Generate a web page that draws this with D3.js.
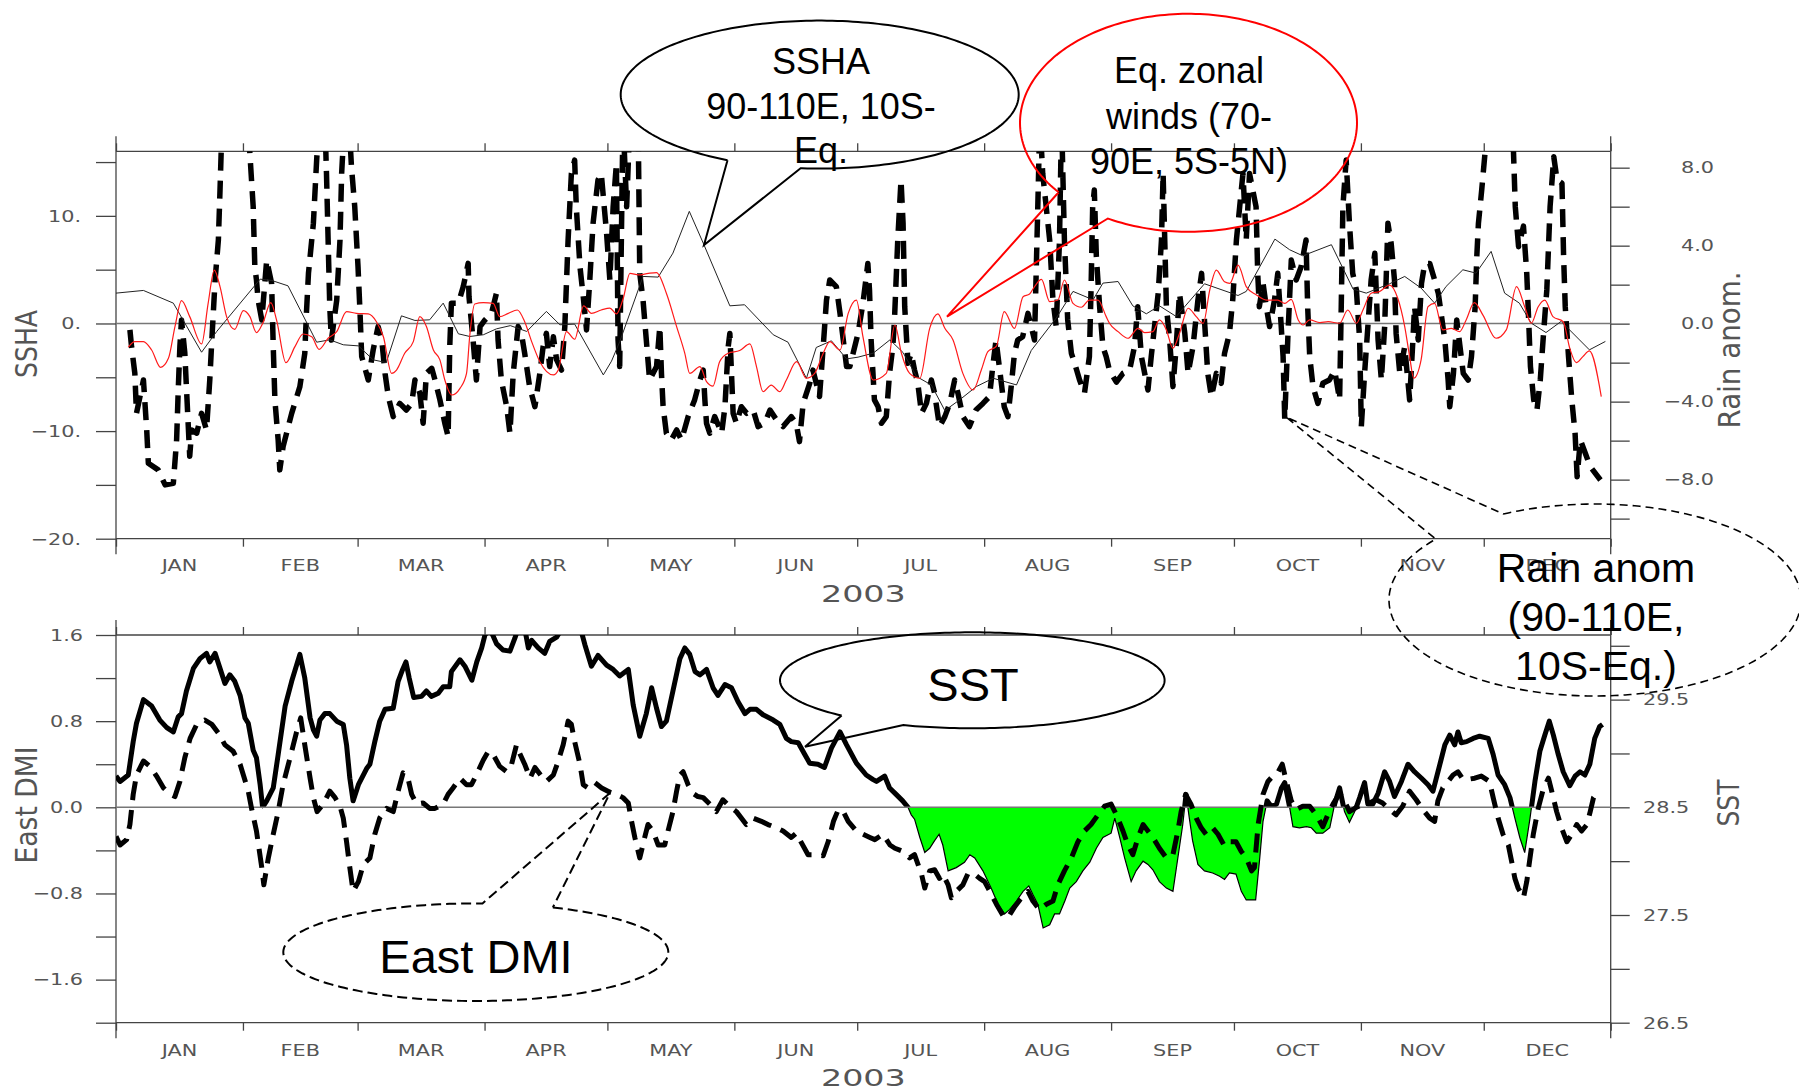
<!DOCTYPE html>
<html>
<head>
<meta charset="utf-8">
<script src="https://cdn.jsdelivr.net/npm/d3@7"></script>
<style>
  html, body { margin: 0; padding: 0; background: #fff; }
  svg { display: block; }
</style>
</head>
<body>
<svg id="chart" width="1799" height="1091"></svg>
<script>
// ---------------- data ----------------
// month and year labels
const monthLabels = ["JAN","FEB","MAR","APR","MAY","JUN","JUL","AUG","SEP","OCT","NOV","DEC"];
const yearLabel = "2003";

// axis ticks and their labels
const sshaTicks = [-20, -15, -10, -5, 0, 5, 10, 15];
const sshaTickLabels = [[10, "10."], [0, "0."], [-10, "\u221210."], [-20, "\u221220."]];
const rainTicks = [-10, -8, -6, -4, -2, 0, 2, 4, 6, 8];
const rainTickLabels = [[8, "8.0"], [4, "4.0"], [0, "0.0"], [-4, "\u22124.0"], [-8, "\u22128.0"]];
const dmiTicks = [-2, -1.6, -1.2, -0.8, -0.4, 0, 0.4, 0.8, 1.2, 1.6];
const dmiTickLabels = [[1.6, "1.6"], [0.8, "0.8"], [0, "0.0"], [-0.8, "\u22120.8"], [-1.6, "\u22121.6"]];
const sstTicks = [26.5, 27, 27.5, 28, 28.5, 29, 29.5, 30];
const sstTickLabels = [[29.5, "29.5"], [28.5, "28.5"], [27.5, "27.5"], [26.5, "26.5"]];

// SSHA, 90-110E 10S-Eq (day of year, cm)
const sshaSeries = [[0,2.82],[6.7,3.07],[14,1.89],[20.9,-2.67],[24.6,-0.74],[35.2,4.12],[38,4.0],[42,3.5],[49,-1.74],[52.2,-1.52],[55.5,-1.98],[59.2,-2.08],[62.8,-3.38],[66,-3.63],[69.7,0.71],[73,0.28],[76.6,0.34],[79.9,1.89],[83.6,-0.96],[86.4,-1.21],[89.7,-1.05],[92.9,-0.5],[96.3,-0.2],[100.3,-0.74],[105.1,1.12],[108.4,-0.12],[112,-0.06],[119,-4.78],[121,-3.5],[123,-1.7],[128.7,4.37],[132.4,4.31],[136,6.54],[140,10.42],[143.4,7.47],[149.9,1.64],[153.5,1.74],[160.5,-1.05],[164.1,-1.74],[168.6,-5.09],[171,-2.23],[174.7,-1.61],[178.4,-3.29],[181.2,-3.13],[184.9,-2.76],[189,-1.52],[192.2,-2.7],[195.5,-4.93],[199.1,-5.71],[202.4,-8.09],[206,-7.1],[210.1,-5.86],[214.2,-5.09],[219.9,-5.71],[223.5,-2.51],[229.6,0.5],[233.7,2.98],[238.6,2.2],[241,3.75],[244.7,3.9],[248.3,1.64],[251.6,0.9],[254.8,1.64],[258.9,0.65],[265.8,3.69],[274,2.6],[276,2.98],[283,7.84],[286.6,6.85],[289.8,6.29],[296.8,7.32],[302.1,3.19],[305.3,2.82],[311,3.69],[314.7,4.37],[318.7,3.29],[322,1.89],[324.8,3.44],[328.9,4.99],[332.1,4.68],[335.8,6.7],[339.1,2.82],[342.7,1.89],[345.6,0.03],[349.2,-0.84],[352.9,0.19],[359.8,-2.45],[363.7,-1.67]];

// equatorial zonal winds, 70-90E 5S-5N (day of year, m/s)
const windSeries = [[3,-1.21],[4.6,-0.92],[6.7,-0.92],[8.7,-1.35],[10.9,-2.24],[12.8,-1.78],[14.4,-0.15],[16,1.18],[18,0.36],[20.9,-1.04],[22.5,1.04],[24,2.75],[25.4,1.9],[27,0.36],[29,-0.29],[31.1,0.67],[32.7,0.36],[34.3,-0.46],[35.9,0.05],[37.8,1.08],[39.2,0.19],[41.5,-2.0],[43.7,-1.18],[45.7,-0.53],[47.8,-0.67],[49.6,-1.32],[51.8,-0.75],[53.9,-0.41],[56.3,0.62],[58.7,0.53],[61.6,0.5],[63.6,0.1],[65.3,-0.67],[67.3,-2.55],[68.5,-2.38],[70.5,-1.52],[72.6,-0.92],[74.2,0.36],[75.8,-0.15],[77.5,-1.35],[79.1,-1.86],[80.3,-2.89],[82,-3.66],[84,-3.32],[85.6,-2.55],[86.4,-0.58],[87.6,1.01],[89.7,1.08],[92.1,1.04],[93.7,0.36],[95.8,0.53],[98,0.7],[99.8,0.1],[101.5,-0.92],[103.5,-1.95],[106.8,-2.63],[108,-2.38],[110,-0.41],[112,-0.8],[114.2,0.91],[116.1,0.53],[118.5,0.7],[120.6,0.8],[122.2,0.5],[123.8,1.25],[125.5,2.58],[127.6,2.5],[130,2.58],[132,2.62],[134.4,1.56],[136.9,-0.15],[138.9,-1.52],[140.1,-2.55],[142.6,-2.2],[144.2,-2.97],[145.8,-3.2],[147.4,-1.95],[149.5,-1.52],[152.3,-1.38],[154.8,-1.04],[156.4,-2.2],[158,-3.49],[160,-3.15],[162.1,-3.49],[163.7,-2.89],[166.2,-1.95],[168.6,-2.8],[170.6,-2.55],[172.7,-1.52],[174.3,-0.92],[176.8,-1.35],[178.8,0.53],[180.8,1.21],[182.4,-0.67],[184.9,-2.89],[188.1,-2.55],[190.2,-0.07],[191.8,-1.52],[193.8,-2.55],[196.3,-2.8],[198.7,-0.24],[200.7,0.5],[202.4,-0.24],[204.4,-0.84],[206.8,-2.55],[209.3,-3.4],[211.3,-2.38],[212.9,-1.44],[215,-1.15],[216.9,0.62],[219.4,-0.24],[221.5,1.38],[223.1,1.52],[224.3,1.9],[226,2.27],[228,1.13],[230,1.21],[231.6,2.24],[233.7,1.04],[235.7,0.84],[237.7,1.21],[239.8,1.21],[241.8,0.36],[242.6,0.02],[244.7,-0.41],[247.1,-0.75],[249.6,-0.24],[251.2,-0.46],[253.2,-0.41],[254.8,0.19],[256.5,-0.32],[258.1,-1.26],[259.7,-0.5],[261.8,0.79],[263.8,0.36],[265.5,0.02],[267.1,1.73],[268.7,2.75],[270.7,2.15],[272,2.07],[274,3.0],[276,1.9],[278.5,1.47],[280.9,1.21],[283.7,1.21],[285.4,1.04],[287,1.25],[288.7,0.19],[289.9,-0.07],[291.5,0.19],[294,0.05],[296,0.1],[298.8,0.02],[300.8,0.7],[302.9,0.02],[304.5,0.7],[306.5,1.56],[308.5,1.64],[311,1.98],[313,1.3],[314.7,-0.15],[315.9,-1.69],[316.9,-2.8],[318.7,-1.86],[320.4,0.87],[322,1.04],[324,-0.32],[326.1,-0.24],[328.1,-0.41],[329.7,0.19],[331.7,1.08],[333.8,0.44],[337,-0.75],[339.5,-0.32],[342,1.9],[344,0.87],[345.6,0.02],[347.3,0.87],[348.9,1.21],[350.9,0.36],[353.4,0.1],[355,-1.26],[356.6,-2.0],[358.2,-1.69],[359.8,-1.4],[362.7,-3.74]];

// rain anomaly, 90-110E 10S-Eq (day of year, mm/day)
const rainSeries = [[3.4,-0.32],[3.8,-1.18],[4.6,-2.55],[5,-4.6],[6.7,-2.89],[7.5,-5.45],[7.9,-7.16],[10.3,-7.5],[12,-8.27],[14,-8.19],[14.8,-5.97],[15.2,-3.4],[15.6,-1.18],[16,0.19],[16.8,-1.5],[18,-6.8],[18.5,-5.45],[19.7,-5.62],[20.9,-4.6],[22.1,-5.45],[22.9,-2.89],[23.4,-0.84],[24.2,2.24],[25,4.29],[25.4,6.85],[26,11],[32,11],[32.7,8.7],[33.5,6.0],[33.9,2.92],[34.3,2.24],[34.7,1.21],[35.6,0.19],[36.8,3.26],[38,2.07],[38.4,-1.18],[38.8,-3.91],[39.6,-5.97],[40,-7.5],[40.8,-6.31],[42.9,-4.6],[44.9,-3.23],[46.1,-1.52],[46.5,0.53],[47,2.58],[48.2,5.15],[49,8.39],[49.6,10.5],[51,10.5],[51.4,7.7],[51.8,4.29],[52.2,0.87],[52.6,-0.84],[53.9,1.21],[54.7,4.29],[55.1,7.7],[55.8,10.5],[57,10],[57.5,8.05],[58.3,6.0],[59.1,2.92],[59.6,0.53],[60,-1.69],[61.6,-2.89],[62.8,-1.35],[64,-0.15],[64.9,-0.84],[65.7,-2.55],[66.5,-3.74],[67.7,-4.77],[69.3,-4.09],[70.9,-4.43],[72.2,-4.09],[73,-2.89],[74.2,-3.57],[75,-5.11],[75.8,-2.55],[77.1,-2.29],[77.9,-2.89],[79.1,-3.91],[80.3,-5.11],[81.1,-5.79],[81.5,-1.18],[81.9,1.04],[83.6,1.04],[84.8,1.9],[86,3.09],[86.2,1.38],[87.2,-0.84],[88,-2.89],[88.9,-0.15],[90.1,0.19],[91.7,0.53],[92.9,1.56],[93.3,-0.84],[94.1,-2.89],[95.4,-4.26],[96.2,-5.62],[97,-2.55],[98.2,-0.15],[99,-0.5],[99.8,-1.52],[101,-3.23],[102.3,-4.26],[103.5,-2.55],[104.3,-1.18],[105.1,-0.5],[105.9,-2.2],[106.8,-0.67],[107.6,-1.86],[108.8,-2.38],[109.6,-0.15],[110.4,4.29],[111.2,7.7],[112,8.39],[112.4,6.0],[113.3,2.92],[114.1,1.38],[114.9,-0.32],[115.7,2.24],[116.5,5.15],[117.7,7.37],[118.5,7.7],[119.8,4.63],[120.6,2.24],[121.4,6.0],[122.2,8.22],[122.6,-0.84],[123,-2.2],[123.8,10.5],[124.7,6.0],[125.5,10.5],[127.5,10.5],[127.9,2.58],[128.7,1.21],[129.5,-0.84],[130.3,-2.89],[132,-2.2],[132.8,-0.15],[133.2,-2.55],[133.6,-4.26],[134.4,-5.62],[135.6,-5.97],[136.9,-5.45],[138.1,-5.97],[139.7,-4.77],[141.3,-3.91],[142.6,-2.89],[143.4,-2.38],[143.8,-3.91],[144.2,-5.11],[145,-5.62],[146.2,-4.77],[147.9,-5.62],[148.7,-4.26],[149.5,-1.18],[149.9,-0.5],[150.7,-4.6],[151.5,-5.11],[152.7,-4.26],[154,-4.6],[155.6,-4.43],[156.8,-5.28],[158.4,-5.11],[159.7,-4.43],[161.3,-4.94],[162.9,-5.28],[164.9,-4.77],[166.1,-5.11],[166.9,-6.05],[167.8,-4.09],[169.4,-3.06],[170.2,-2.38],[171.8,-3.74],[172.7,-1.18],[173.5,1.21],[174.3,2.24],[175.9,1.9],[176.8,0.53],[177.6,-0.84],[178.4,-2.2],[179.2,-2.2],[181.2,-0.5],[182.4,1.04],[183.6,3.09],[184,1.73],[184.4,-0.84],[185.2,-3.91],[186.1,-4.26],[186.9,-5.11],[188.1,-4.77],[188.9,-2.55],[189.7,-1.18],[190.1,0.19],[190.9,4.29],[191.7,7.37],[192.2,5.15],[192.6,0.87],[193.4,-2.03],[194.2,-1.52],[195,-2.38],[195.8,-3.06],[196.7,-4.6],[197.9,-4.09],[199.1,-2.89],[199.9,-3.57],[201.1,-5.28],[202.4,-4.77],[203.6,-4.09],[204.8,-2.89],[205.6,-3.57],[206.8,-4.77],[208.4,-5.28],[210,-4.43],[211.7,-4.09],[213.3,-3.74],[214.1,-2.2],[214.9,-0.84],[216.1,-2.89],[216.9,-4.26],[217.8,-4.77],[218.6,-3.23],[219.4,-1.52],[220.2,-0.84],[221.4,-0.67],[222.7,0.53],[223.5,-0.15],[224.3,-0.84],[224.7,2.58],[225.1,6.0],[225.6,10.5],[226.3,7.7],[228,4.29],[228.8,1.21],[229.6,-0.15],[230.4,4.29],[230.9,10.5],[231.6,4.29],[232.4,0.19],[233.3,-1.52],[234.1,-2.03],[235.3,-2.89],[236.5,-3.57],[237.7,-1.69],[238.1,1.73],[238.5,6.0],[238.9,6.85],[239.4,3.44],[240.2,0.87],[241,-1.18],[241.8,-1.69],[242.6,-2.4],[244.3,-3.0],[245.9,-2.55],[247.5,-2.4],[248.7,-1.18],[249.5,0.87],[250.4,-1.69],[251.2,-2.55],[252,-3.4],[252.8,-1.69],[253.6,-0.15],[254.5,1.56],[255.3,4.29],[255.7,7.7],[256.1,4.29],[256.5,0.87],[257.3,-0.84],[258.1,-3.23],[258.9,-1.18],[259.7,1.56],[261,-0.5],[261.8,-2.55],[263,-1.18],[264.2,1.21],[265.1,2.58],[265.9,-0.15],[266.6,-2.55],[267.5,-3.74],[268.7,-2.55],[269.9,-3.06],[270.7,-1.52],[271.9,-0.5],[272.7,1.21],[273.6,4.29],[274.4,6.0],[275.2,7.7],[276,4.29],[276.8,7.7],[278.4,6.0],[278.8,2.58],[279.2,0.87],[280.1,2.07],[280.9,0.87],[281.7,-0.15],[282.9,1.21],[283.7,2.58],[284.5,0.0],[285,-1.69],[285.4,-4.9],[286.2,-0.5],[287,3.26],[288.2,2.24],[289.4,2.92],[290.6,4.29],[291,0.87],[291.5,-1.69],[292.3,-3.23],[293.5,-4.09],[294.7,-3.06],[296.3,-2.89],[297.6,-2.4],[298.8,-3.91],[299.2,0.87],[299.6,6.0],[300.4,8.39],[301.2,5.15],[302,2.58],[302.9,1.73],[303.7,-0.84],[304.1,-5.28],[304.9,-2.55],[305.7,-0.15],[306.5,2.24],[307.4,3.61],[308.2,-0.84],[309,-2.89],[309.8,-0.15],[310.6,5.15],[311.4,4.1],[312.2,2.24],[312.6,-0.5],[313.5,-2.55],[314.7,-1.18],[315.9,-3.91],[316.7,-0.84],[317.1,0.87],[318,-0.84],[318.8,2.07],[319.6,3.09],[320.8,3.09],[322,2.24],[322.9,1.56],[324.5,-0.84],[325.3,-2.89],[325.7,-4.26],[326.6,-2.55],[327.4,0.19],[328.2,-1.18],[329,-2.55],[330.2,-2.89],[331,-1.69],[331.9,0.87],[332.3,3.44],[332.7,5.15],[333.5,6.85],[334.3,8.74],[335,10.5],[338,11],[341,10.5],[341.7,6.0],[342.5,3.95],[343.7,5.0],[344.5,2.58],[345,0.02],[345.4,-2.2],[346.2,-3.91],[347,-4.43],[347.8,-2.89],[348.6,-0.5],[349.4,1.73],[350.2,6.0],[351.1,8.56],[351.9,7.37],[353.1,7.2],[353.5,3.44],[353.9,0.87],[354.7,-1.69],[355.5,-3.91],[356.3,-5.62],[356.8,-7.85],[357.6,-5.97],[358.8,-6.65],[360,-7.33],[362.5,-8.02]];

// SST, 90-110E 10S-Eq (day of year, degC)
const sstSeries = [[0,28.79],[1,28.74],[3,28.8],[4.2,29.11],[5,29.28],[6.7,29.5],[8.7,29.44],[10.7,29.31],[12.4,29.24],[14,29.2],[15.2,29.34],[16,29.37],[17.2,29.58],[18.9,29.79],[20.5,29.88],[22.1,29.93],[22.9,29.85],[24.2,29.93],[25.4,29.79],[26.6,29.65],[27.8,29.73],[29,29.67],[30.3,29.54],[31.5,29.33],[32.3,29.28],[33.5,29.03],[34.3,28.96],[35.2,28.71],[35.8,28.5],[36.8,28.56],[38.4,28.68],[39.6,28.99],[41.3,29.44],[42.9,29.67],[44.9,29.92],[46.1,29.7],[47.4,29.33],[48.2,29.22],[49,29.16],[49.8,29.31],[51,29.37],[52.2,29.37],[53.9,29.3],[55.5,29.27],[56.3,29.08],[57.1,28.77],[57.9,28.56],[59.2,28.71],[61.2,28.86],[62,28.9],[63.2,29.11],[64.4,29.3],[65.7,29.41],[67.7,29.42],[68.9,29.67],[70,29.78],[70.8,29.85],[71.6,29.7],[72.7,29.52],[74.6,29.53],[75.8,29.58],[77,29.53],[78.7,29.56],[79.9,29.62],[81.5,29.62],[81.9,29.76],[84,29.87],[85.2,29.81],[86.9,29.68],[88.1,29.85],[89.3,29.98],[90.1,30.1],[91.3,30.16],[92.9,30.02],[94.5,29.96],[96.2,29.95],[97.4,30.07],[98.2,30.16],[99.8,30.16],[100.7,29.98],[101.5,30.05],[103.1,29.98],[104.7,29.93],[105.9,30.04],[107.6,30.08],[109.2,30.18],[113.3,30.18],[114.5,30.01],[116.1,29.81],[117.7,29.91],[119.8,29.82],[121.4,29.78],[123,29.72],[125.1,29.78],[126.3,29.45],[127.9,29.16],[129.5,29.37],[130.8,29.61],[132,29.42],[133.2,29.25],[134.4,29.3],[136,29.58],[137.7,29.88],[138.9,29.98],[140.1,29.92],[141.4,29.76],[142.6,29.73],[144.2,29.78],[145.8,29.61],[147,29.54],[148.7,29.64],[150.3,29.61],[151.9,29.48],[153.6,29.37],[154.8,29.41],[156.4,29.41],[158,29.36],[160.5,29.31],[162.1,29.27],[163.7,29.14],[164.9,29.11],[166.6,29.1],[168.2,28.99],[169.4,28.91],[171.4,28.9],[173,28.87],[174.7,29.05],[176.8,29.2],[178.4,29.08],[180.8,28.91],[183.2,28.8],[184.8,28.76],[185.7,28.74],[187.7,28.79],[188.9,28.68],[190.5,28.62],[192.1,28.56],[193.4,28.5],[194.2,28.43],[195,28.39],[196.3,28.22],[197.5,28.08],[198.7,28.12],[199.9,28.19],[201,28.25],[201.9,28.15],[203.2,27.91],[205.2,27.94],[207.2,27.99],[208.5,28.06],[209.7,28.03],[211.7,27.91],[213.7,27.75],[215.4,27.6],[217,27.51],[218.2,27.55],[219.9,27.63],[221.5,27.72],[222.9,27.77],[223.9,27.69],[225.1,27.6],[226.4,27.38],[228,27.41],[229.2,27.51],[230.4,27.51],[231.7,27.63],[232.9,27.75],[234.5,27.81],[236.1,27.91],[237.8,27.99],[239.4,28.12],[241,28.22],[243,28.26],[243.9,28.4],[245.1,28.22],[246.3,28.03],[247.9,27.81],[249.1,27.91],[250.8,28.0],[252,27.97],[253.2,27.92],[254.8,27.81],[256.5,27.75],[258.1,27.72],[259.3,28.03],[260.5,28.34],[261.3,28.62],[262.1,28.4],[262.9,28.19],[264.2,27.97],[265.8,27.91],[267.8,27.89],[269.5,27.86],[270.7,27.83],[271.9,27.89],[273.5,27.88],[274.8,27.72],[276,27.64],[278.3,27.64],[279.3,28.03],[280.1,28.37],[281.1,28.56],[282.1,28.51],[283.4,28.53],[284.6,28.68],[285.4,28.73],[286.6,28.5],[287.4,28.32],[289,28.31],[290.7,28.32],[291.9,28.31],[293.1,28.26],[294.7,28.26],[296.4,28.31],[297.6,28.53],[298.8,28.68],[300,28.46],[301.2,28.36],[302.5,28.46],[303.7,28.59],[304.9,28.73],[305.7,28.53],[306.9,28.53],[308.2,28.63],[309.8,28.83],[311,28.74],[312.2,28.6],[313.9,28.74],[315.5,28.9],[317.1,28.83],[318.8,28.77],[320.4,28.71],[321.6,28.65],[323.3,28.9],[324.5,29.08],[325.7,29.17],[326.9,29.08],[327.7,29.2],[328.5,29.1],[329.8,29.11],[331.4,29.14],[333,29.16],[335.1,29.14],[336.3,28.99],[337.5,28.8],[339.1,28.71],[340.4,28.59],[341.6,28.4],[342.8,28.22],[344,28.08],[345.3,28.4],[346.5,28.74],[347.7,29.02],[348.9,29.17],[350,29.3],[351,29.17],[352.2,28.99],[353.4,28.83],[355,28.7],[356.3,28.79],[357.5,28.83],[358.7,28.8],[359.9,28.9],[361.1,29.14],[362.3,29.25],[363,29.27]];

// East DMI (day of year, degC)
const dmiSeries = [[0,-0.27],[1,-0.35],[2.6,-0.3],[3.4,-0.16],[4.2,0.12],[5,0.3],[6.7,0.43],[8.3,0.38],[9.9,0.29],[11.6,0.18],[13.2,0.12],[14.4,0.1],[15.6,0.24],[16.8,0.46],[18.1,0.64],[19.7,0.77],[21.7,0.81],[23.4,0.77],[25,0.69],[26.6,0.58],[28.6,0.52],[30.3,0.4],[31.1,0.3],[32.3,0.15],[33.1,-0.01],[34.3,-0.22],[35.6,-0.56],[36.1,-0.72],[37.2,-0.47],[38.4,-0.25],[39.6,-0.04],[40.8,0.21],[42.5,0.46],[44.1,0.7],[45.1,0.83],[46.1,0.58],[47.4,0.27],[48.2,0.09],[49.1,-0.04],[50.6,0.03],[52.2,0.15],[53.5,0.09],[54.7,0.01],[55.5,-0.1],[56.3,-0.32],[57.1,-0.56],[57.9,-0.78],[59.2,-0.69],[60.4,-0.53],[62,-0.47],[63.2,-0.25],[64.4,-0.1],[66.1,-0.01],[67.7,-0.04],[68.9,0.15],[70.1,0.32],[71.3,0.27],[72.2,0.12],[73.4,0.03],[75,0.04],[76.6,-0.01],[77.9,-0.01],[79.9,0.03],[81.1,0.12],[82.3,0.18],[84,0.27],[85.6,0.21],[86.8,0.21],[88,0.3],[89.7,0.44],[90.9,0.52],[92.1,0.49],[93.7,0.38],[95.4,0.33],[96.6,0.4],[97.8,0.58],[98.6,0.5],[99.8,0.4],[101.1,0.27],[102.3,0.37],[103.9,0.29],[105.1,0.24],[106.8,0.3],[108,0.43],[109.2,0.58],[110.4,0.8],[111.2,0.77],[112,0.61],[113.3,0.4],[114.1,0.21],[115.3,0.18],[116.9,0.23],[118.6,0.18],[120.6,0.14],[122.2,0.12],[123.8,0.09],[125.1,0.04],[125.9,-0.13],[126.7,-0.28],[127.9,-0.47],[129.1,-0.28],[129.9,-0.16],[131.1,-0.22],[132.4,-0.35],[134,-0.35],[134.8,-0.22],[136,-0.04],[136.9,0.15],[137.7,0.3],[138.5,0.33],[139.7,0.21],[140.9,0.13],[142.1,0.1],[143.4,0.09],[145,0.03],[146.6,-0.04],[148.2,0.07],[149.8,0.01],[151.5,-0.04],[152.7,-0.1],[153.9,-0.16],[155.6,-0.1],[157.6,-0.13],[159.2,-0.16],[161.3,-0.19],[162.9,-0.22],[164.9,-0.28],[166.1,-0.24],[167.4,-0.33],[169,-0.44],[171,-0.44],[172.7,-0.45],[173.9,-0.32],[175.2,-0.13],[176.4,-0.02],[177.6,-0.04],[178.8,-0.13],[180.8,-0.22],[182.4,-0.25],[184.1,-0.28],[185.3,-0.3],[187.3,-0.25],[189,-0.35],[190.2,-0.38],[192.2,-0.41],[193.8,-0.47],[195,-0.44],[196.7,-0.62],[197.5,-0.75],[198.7,-0.59],[199.9,-0.58],[201.1,-0.66],[201.9,-0.62],[203.2,-0.72],[204,-0.84],[205.2,-0.78],[206.8,-0.72],[208,-0.62],[209.3,-0.61],[210.9,-0.66],[212.1,-0.69],[213.4,-0.78],[215,-0.9],[217,-1.03],[218.2,-1.0],[219.5,-0.92],[221.1,-0.84],[222.7,-0.78],[223.9,-0.87],[225.5,-0.95],[227.2,-0.9],[228.8,-0.87],[230,-0.72],[231.6,-0.59],[233.3,-0.47],[234.9,-0.32],[236.5,-0.22],[238.1,-0.16],[239.8,-0.07],[241.4,0.01],[243,0.03],[244.3,-0.07],[245.9,-0.22],[247.1,-0.35],[248.3,-0.44],[249.6,-0.28],[250.8,-0.16],[252,-0.22],[253.2,-0.28],[254.8,-0.38],[256.5,-0.47],[258.1,-0.44],[259.3,-0.22],[260.1,-0.04],[261.2,0.12],[262.5,0.03],[263.8,-0.1],[265,-0.19],[266.2,-0.25],[267.8,-0.19],[269.1,-0.25],[270.7,-0.36],[271.9,-0.32],[273.5,-0.32],[274.8,-0.41],[276,-0.47],[277.3,-0.59],[278,-0.56],[278.9,-0.16],[280.1,0.12],[281.3,0.24],[282.5,0.29],[283.8,0.33],[284.8,0.4],[285.8,0.24],[287,0.06],[288.2,-0.02],[289.8,0.01],[291.5,0.01],[293.1,-0.07],[294.7,-0.18],[295.9,-0.07],[297.2,0.03],[298.8,0.13],[300,0.06],[301.2,-0.04],[302.9,0.0],[304.5,0.03],[306.1,0.04],[307.7,0.07],[309.3,0.04],[311,-0.02],[312.6,-0.07],[314.2,0.01],[315.9,0.15],[317.5,0.07],[319.1,-0.02],[320.8,-0.1],[322,-0.13],[322.8,0.06],[324,0.18],[325.3,0.24],[326.5,0.3],[327.7,0.33],[328.9,0.26],[330.2,0.26],[331.8,0.27],[333.4,0.29],[335.4,0.24],[336.3,0.09],[337.5,-0.1],[338.7,-0.25],[340,-0.35],[340.8,-0.5],[341.6,-0.66],[342.4,-0.75],[343.7,-0.84],[344.5,-0.69],[345.3,-0.47],[346.1,-0.25],[347.3,-0.01],[348.6,0.18],[349.8,0.27],[350.6,0.15],[351.8,-0.04],[353,-0.19],[354.3,-0.32],[355.5,-0.25],[356.7,-0.16],[357.9,-0.22],[359.2,-0.16],[360,-0.04],[360.8,0.09],[361.6,0.13]];

// callout texts
const sshaNote = ["SSHA", "90-110E, 10S-", "Eq."];
const windNote = ["Eq. zonal", "winds (70-", "90E, 5S-5N)"];
const rainNote = ["Rain anom", "(90-110E,", "10S-Eq.)"];
const sstNote = ["SST"];
const dmiNote = ["East DMI"];

// ---------------- drawing ----------------
const svg = d3.select("#chart");
const TICK_FONT = "'DejaVu Sans', sans-serif";
const NOTE_FONT = "'Liberation Sans', Arial, sans-serif";
const AXIS = "#444";
const LABEL = "#555";

const t0 = Date.UTC(2003, 0, 1), t1 = Date.UTC(2004, 0, 1);
const dayDate = d => new Date(t0 + d * 86400000);
const X0 = 116, X1 = 1610.7;
const x = d3.scaleUtc().domain([new Date(t0), new Date(t1)]).range([X0, X1]);

const P1 = { top: 151.3, bot: 538.7 };
const P2 = { top: 635, bot: 1022.7 };

const yS = d3.scaleLinear().domain([-20, 16]).range([P1.bot, P1.top]);
const yR = d3.scaleLinear().domain([-11.03, 8.84]).range([P1.bot, P1.top]);
const yD = d3.scaleLinear().domain([-2.0, 1.6]).range([P2.bot, P2.top]);
const yT = d3.scaleLinear().domain([26.5, 30.1]).range([P2.bot, P2.top]);

const defs = svg.append("defs");
function clipRect(id, x0, y0, x1, y1) {
  defs.append("clipPath").attr("id", id).append("rect")
    .attr("x", x0).attr("y", y0).attr("width", x1 - x0).attr("height", y1 - y0);
}
clipRect("clipTop", X0, P1.top, X1, P1.bot);
clipRect("clipBot", X0, P2.top, X1, P2.bot);
clipRect("clipSstAbove", X0, P2.top, X1, yT(28.5));
clipRect("clipSstBelow", X0, yT(28.5), X1, P2.bot);

function hText(g, str, tx, ty, anchor, size, sx) {
  g.append("text")
    .attr("transform", `translate(${tx},${ty}) scale(${sx},1)`)
    .attr("text-anchor", anchor)
    .attr("font-family", TICK_FONT)
    .attr("font-size", size)
    .attr("fill", LABEL)
    .text(str);
}

function vTitle(g, str, cx, cy, len) {
  g.append("text")
    .attr("transform", `translate(${cx},${cy}) rotate(-90)`)
    .attr("text-anchor", "middle")
    .attr("dy", "0.36em")
    .attr("font-family", TICK_FONT)
    .attr("font-size", 31)
    .attr("fill", LABEL)
    .attr("textLength", len)
    .attr("lengthAdjust", "spacingAndGlyphs")
    .text(str);
}

function styleAxis(g) {
  g.attr("color", AXIS).attr("font-size", 0);
  g.select(".domain").remove();
  g.selectAll(".tick line").attr("stroke-width", 1.3);
}

function frame(P, yL, yRt, leftTicks, rightTicks, monthY, yearY) {
  const g = svg.append("g");
  // left and right axes (tick marks)
  g.append("g").attr("transform", `translate(${X0},0)`)
    .call(d3.axisLeft(yL).tickValues(leftTicks).tickSize(20).tickFormat(""))
    .call(styleAxis);
  g.append("g").attr("transform", `translate(${X1},0)`)
    .call(d3.axisRight(yRt).tickValues(rightTicks).tickSize(19).tickFormat(""))
    .call(styleAxis);
  // month ticks on top and bottom edges
  const months = d3.utcMonth.range(new Date(t0), new Date(t1 + 1));
  g.append("g").attr("transform", `translate(0,${P.top})`)
    .call(d3.axisTop(x).tickValues(months).tickSize(8).tickFormat(""))
    .call(styleAxis);
  g.append("g").attr("transform", `translate(0,${P.bot})`)
    .call(d3.axisBottom(x).tickValues(months).tickSize(8).tickFormat(""))
    .call(styleAxis);
  // frame lines
  const ln = (x1, y1, x2, y2) => g.append("line")
    .attr("x1", x1).attr("y1", y1).attr("x2", x2).attr("y2", y2)
    .attr("stroke", AXIS).attr("stroke-width", 1.3);
  ln(X0, P.top, X1, P.top);
  ln(X0, P.bot, X1, P.bot);
  ln(X0, P.top - 15, X0, P.bot + 15.5);
  ln(X1, P.top - 15, X1, P.bot + 15.5);
  // month labels at mid-month
  d3.utcMonth.range(new Date(t0), new Date(t1)).forEach((m, i) => {
    const mid = new Date((m.getTime() + d3.utcMonth.offset(m, 1).getTime()) / 2);
    hText(g, monthLabels[i], x(mid), monthY, "middle", 16, 1.3);
  });
  hText(g, yearLabel, (X0 + X1) / 2, yearY, "middle", 23, 1.45);
  return g;
}

// ---------- upper panel ----------
const gTop = frame(P1, yS, yR, sshaTicks, rainTicks, 571, 602);
sshaTickLabels.forEach(([v, s]) => hText(gTop, s, 81, yS(v) + 5.8, "end", 16, 1.3));
rainTickLabels.forEach(([v, s]) => hText(gTop, s, 1714, yR(v) + 5.8, "end", 16, 1.3));
vTitle(gTop, "SSHA", 26, 344, 68);
vTitle(gTop, "Rain anom.", 1729, 350, 157);

const topData = svg.append("g").attr("clip-path", "url(#clipTop)");
topData.append("line")
  .attr("x1", X0).attr("x2", X1).attr("y1", yS(0)).attr("y2", yS(0))
  .attr("stroke", "#777").attr("stroke-width", 1.4);

topData.append("path").datum(rainSeries)
  .attr("d", d3.line().x(d => x(dayDate(d[0]))).y(d => yR(d[1])))
  .attr("fill", "none").attr("stroke", "#000").attr("stroke-width", 5.5)
  .attr("stroke-dasharray", "18,10").attr("stroke-linejoin", "round");

topData.append("path").datum(sshaSeries)
  .attr("d", d3.line().x(d => x(dayDate(d[0]))).y(d => yS(d[1])))
  .attr("fill", "none").attr("stroke", "#222").attr("stroke-width", 1);

topData.append("path").datum(windSeries)
  .attr("d", d3.line().curve(d3.curveMonotoneX).x(d => x(dayDate(d[0]))).y(d => yR(d[1])))
  .attr("fill", "none").attr("stroke", "#ff1a1a").attr("stroke-width", 1.2);

// ---------- lower panel ----------
const gBot = frame(P2, yD, yT, dmiTicks, sstTicks, 1056, 1086);
dmiTickLabels.forEach(([v, s]) => hText(gBot, s, 83, yD(v) + 5.8, "end", 16, 1.3));
sstTickLabels.forEach(([v, s]) => hText(gBot, s, 1643, yT(v) + 5.8, "start", 16, 1.3));
vTitle(gBot, "East DMI", 26, 805, 117);
vTitle(gBot, "SST", 1728, 803, 47);

const botData = svg.append("g").attr("clip-path", "url(#clipBot)");
const sx = d => x(dayDate(d[0]));
// SST above 28.5: thick line
botData.append("g").attr("clip-path", "url(#clipSstAbove)")
  .append("path").datum(sstSeries)
  .attr("d", d3.line().x(sx).y(d => yT(d[1])))
  .attr("fill", "none").attr("stroke", "#000").attr("stroke-width", 5)
  .attr("stroke-linejoin", "round");
// SST below 28.5: green shading with thin outline
const below = botData.append("g").attr("clip-path", "url(#clipSstBelow)");
below.append("path").datum(sstSeries)
  .attr("d", d3.area().x(sx).y0(yT(28.5)).y1(d => yT(d[1])))
  .attr("fill", "#00ff00").attr("stroke", "none");
below.append("path").datum(sstSeries)
  .attr("d", d3.line().x(sx).y(d => yT(d[1])))
  .attr("fill", "none").attr("stroke", "#000").attr("stroke-width", 1.2);

botData.append("line")
  .attr("x1", X0).attr("x2", X1).attr("y1", yD(0)).attr("y2", yD(0))
  .attr("stroke", "#777").attr("stroke-width", 1.4);

botData.append("path").datum(dmiSeries)
  .attr("d", d3.line().x(sx).y(d => yD(d[1])))
  .attr("fill", "none").attr("stroke", "#000").attr("stroke-width", 5)
  .attr("stroke-dasharray", "19,10").attr("stroke-linejoin", "round");

// ---------- callouts ----------
function callout(c) {
  const pts = [];
  for (let a = c.from; a <= c.to + 1e-9; a += 1.5) {
    const r = a * Math.PI / 180;
    pts.push([c.cx + c.rx * Math.cos(r), c.cy + c.ry * Math.sin(r)]);
  }
  const rEnd = c.to * Math.PI / 180;
  pts.push([c.cx + c.rx * Math.cos(rEnd), c.cy + c.ry * Math.sin(rEnd)]);
  pts.push(c.tip);
  const rStart = c.from * Math.PI / 180;
  pts.push([c.cx + c.rx * Math.cos(rStart), c.cy + c.ry * Math.sin(rStart)]);
  const p = svg.append("path")
    .attr("d", d3.line()(pts))
    .attr("fill", "none")
    .attr("stroke", c.color)
    .attr("stroke-width", c.width)
    .attr("stroke-linejoin", "miter");
  if (c.dash) p.attr("stroke-dasharray", c.dash);
  c.lines.forEach((s, i) => {
    svg.append("text")
      .attr("x", c.tx).attr("y", c.ty + i * c.lh)
      .attr("text-anchor", "middle")
      .attr("font-family", NOTE_FONT)
      .attr("font-size", c.size)
      .attr("fill", "#000")
      .text(s);
  });
}

callout({ cx: 819.7, cy: 94.6, rx: 199, ry: 74, from: 117.6, to: 455.5, tip: [704, 245],
  color: "#000", width: 2, dash: null, lines: sshaNote, tx: 821, ty: 74, lh: 44.5, size: 36 });
callout({ cx: 1188.5, cy: 122.8, rx: 168.5, ry: 109, from: 140.4, to: 478.6, tip: [947, 316.7],
  color: "#ff0000", width: 2, dash: null, lines: windNote, tx: 1189, ty: 83, lh: 45.5, size: 36 });
callout({ cx: 1595, cy: 600, rx: 206, ry: 96, from: 243.6, to: 579.4, tip: [1286, 417],
  color: "#000", width: 1.6, dash: "8,5", lines: rainNote, tx: 1596, ty: 582, lh: 49, size: 41 });
callout({ cx: 972.3, cy: 680.3, rx: 192.3, ry: 48, from: 132.8, to: 471, tip: [805, 746.7],
  color: "#000", width: 2, dash: null, lines: sstNote, tx: 973, ty: 701, lh: 0, size: 47 });
callout({ cx: 475.8, cy: 952.2, rx: 192.5, ry: 48.8, from: 293.6, to: 632, tip: [610, 793],
  color: "#000", width: 2, dash: "10,5", lines: dmiNote, tx: 476, ty: 973, lh: 0, size: 47 });
</script>
</body>
</html>
